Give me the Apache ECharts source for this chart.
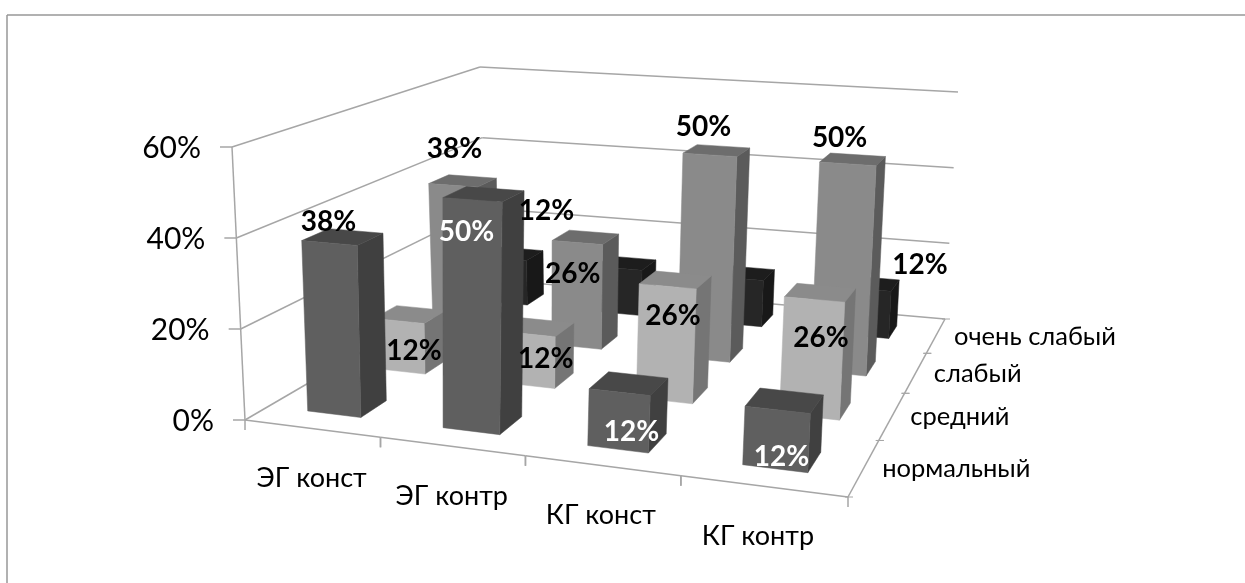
<!DOCTYPE html>
<html><head><meta charset="utf-8">
<style>html,body{margin:0;padding:0;background:#fff}#c{width:1245px;height:583px}</style>
<script src="https://cdn.jsdelivr.net/npm/echarts@6/dist/echarts.min.js"></script></head>
<body><div id="c"></div>
<script>
const categories = ['ЭГ конст', 'ЭГ контр', 'КГ конст', 'КГ контр'];
const depthNames = ['нормальный', 'средний', 'слабый', 'очень слабый'];
const normal = [38, 50, 12, 12];
const medium = [12, 12, 26, 26];
const weak = [38, 26, 50, 50];
const veryWeak = [12, 12, 12, 12];
const valueTicks = [0, 20, 40, 60];

const seriesValues = [normal, medium, weak, veryWeak];
const FONT = 'Lato, Carlito, "Open Sans", sans-serif';
// face colours per series: front, top, side
const faces = [
  ['#5f5f5f', '#484848', '#404040'],
  ['#b2b2b2', '#8b8b8b', '#757575'],
  ['#8a8a8a', '#6d6d6d', '#5b5b5b'],
  ['#262626', '#1d1d1d', '#181818']
];
const labelFill = [
  ['#000', '#fff', '#fff', '#fff'],
  ['#000', '#000', '#000', '#000'],
  ['#000', '#000', '#000', '#000'],
  ['#000', '#000', '#000', '#000']
];
// label offsets from the centre of the bar's front top edge; null = no label
const labelOffsets = [
  [[-1, -21], [-6, 32], [12, 40], [4, 47]],
  [[14, 30], [16, 25], [4, 29], [5, 38]],
  [[-1, -37], [-7, 31], [-9, -28], [-11, -26]],
  [[39, -48], null, null, [51, -24]]
];
const categoryNudge = [0, 0, -1, -5];

const gridBox = {left: 245, top: 147, width: 603, height: 273};
function homography(q) {
  const [p0, p1, p2, p3] = q;
  const dx1 = p1[0] - p2[0], dx2 = p3[0] - p2[0], sx = p0[0] - p1[0] + p2[0] - p3[0];
  const dy1 = p1[1] - p2[1], dy2 = p3[1] - p2[1], sy = p0[1] - p1[1] + p2[1] - p3[1];
  const den = dx1 * dy2 - dx2 * dy1;
  const g = (sx * dy2 - dx2 * sy) / den, h = (dx1 * sy - sx * dy1) / den;
  const a = p1[0] - p0[0] + g * p1[0], b = p3[0] - p0[0] + h * p3[0], c = p0[0];
  const d = p1[1] - p0[1] + g * p1[1], e = p3[1] - p0[1] + h * p3[1], f = p0[1];
  return (u, v) => { const w = g * u + h * v + 1; return [(a * u + b * v + c) / w, (d * u + e * v + f) / w]; };
}
const floorH = homography([[245, 420], [848, 497], [945, 319], [487, 279]]);
const topH = homography([[232, 147], [861.5, 190], [958, 92], [480, 67]]);
// u, w in 0..4 (category, depth), t in 0..1 (height share of the value axis)
function project(u, w, t) {
  const a = floorH(u / 4, w / 4), b = topH(u / 4, w / 4);
  return [a[0] + (b[0] - a[0]) * t, a[1] + (b[1] - a[1]) * t];
}
function axisPos(api, cat, val) {
  const p = api.coord([cat, val]);
  return {u: (p[0] - gridBox.left) / gridBox.width * 4, t: (gridBox.top + gridBox.height - p[1]) / gridBox.height};
}
const HALF = 0.2, BACK = 0.17, ROW_SHIFT = 0.01;
function barPoints(u, w, t) {
  const u0 = u - HALF, u1 = u + HALF, w0 = w - HALF, w1 = w + BACK;
  return {
    front: [project(u0, w0, 0), project(u1, w0, 0), project(u1, w0, t), project(u0, w0, t)],
    side: [project(u1, w0, 0), project(u1, w1, 0), project(u1, w1, t), project(u1, w0, t)],
    top: [project(u0, w0, t), project(u1, w0, t), project(u1, w1, t), project(u0, w1, t)]
  };
}
function poly(points, fill) {
  return {type: 'polygon', shape: {points}, style: {fill, stroke: fill, lineWidth: 0.5}};
}
function line(a, b, lw) {
  return {type: 'line', shape: {x1: a[0], y1: a[1], x2: b[0], y2: b[1]}, style: {stroke: '#a6a6a6', lineWidth: lw || 1.5}};
}
function text(x, y, str, o) {
  return {type: 'text', style: Object.assign({x, y, text: str, fontFamily: FONT, fill: '#000', verticalAlign: 'middle'}, o)};
}

const series = [];
// value gridlines, wall edge, tick marks and value tick labels
series.push({
  type: 'custom', silent: true, animation: false,
  data: valueTicks.map(v => [0, v]),
  renderItem(params, api) {
    const v = api.value(1), t = axisPos(api, 0, v).t;
    const a = project(0, 0, t), b = project(0, 4, t), c = project(4, 4, t);
    const kids = [line(a, b), line(b, c), line([a[0] - 12, a[1]], a)];
    if (v > 0) kids.push(line(a, project(0, 0, axisPos(api, 0, v - 20).t)));
    kids.push(text(a[0] - 31, a[1] + 1, v + '%', {align: 'right', fontSize: 30}));
    return {type: 'group', children: kids};
  }
});
// front floor edge, category ticks and labels
series.push({
  type: 'custom', silent: true, animation: false,
  data: categories.map((c, i) => [i, 0]),
  renderItem(params, api) {
    const i = api.value(0), u = axisPos(api, i, 0).u;
    const a = project(u - 0.5, 0, 0), b = project(u + 0.5, 0, 0), m = project(u, 0, 0);
    const kids = [line(a, b), line(a, [a[0], a[1] + 10]), line(b, [b[0], b[1] + 10])];
    kids.push(text(m[0] + categoryNudge[i], m[1] + 50, categories[i], {align: 'center', fontSize: 27}));
    return {type: 'group', children: kids};
  }
});
// side floor edge, depth ticks and labels
series.push({
  type: 'custom', silent: true, animation: false,
  data: depthNames.map((c, i) => [i, 0]),
  renderItem(params, api) {
    const j = params.dataIndex;
    const a = project(4, j, 0), b = project(4, j + 1, 0), m = project(4, j + 0.5, 0);
    const kids = [line(a, b), line([a[0] - 3, a[1]], [a[0] + 5, a[1]], 1), line([b[0] - 3, b[1]], [b[0] + 5, b[1]], 1)];
    kids.push(text(m[0] + 18, m[1] + 1, depthNames[j], {align: 'left', fontSize: 25.5}));
    return {type: 'group', children: kids};
  }
});
// bars, from the back row to the front
for (let j = 3; j >= 0; j--) {
  series.push({
    name: depthNames[j], type: 'custom', silent: true, animation: false,
    data: seriesValues[j].map((v, i) => [i, v]),
    renderItem(params, api) {
      const p = axisPos(api, api.value(0), api.value(1));
      const f = barPoints(p.u - ROW_SHIFT * j, j + 0.5, p.t);
      return {type: 'group', children: [poly(f.side, faces[j][2]), poly(f.top, faces[j][1]), poly(f.front, faces[j][0])]};
    }
  });
}
// value labels on top of all bars
for (let j = 3; j >= 0; j--) {
  series.push({
    type: 'custom', silent: true, animation: false,
    data: seriesValues[j].map((v, i) => [i, v]),
    renderItem(params, api) {
      const i = api.value(0), v = api.value(1), off = labelOffsets[j][i];
      if (!off) return null;
      const p = axisPos(api, i, v), a = project(p.u, j + 0.5 - HALF, p.t);
      return text(a[0] + off[0], a[1] + off[1], v + '%', {align: 'center', fontSize: 28, fontWeight: 'bold', fill: labelFill[j][i]});
    }
  });
}

const chart = echarts.init(document.getElementById('c'), null, {renderer: 'canvas'});
chart.setOption({
  animation: false,
  backgroundColor: '#fff',
  grid: gridBox,
  xAxis: {type: 'category', data: categories, show: false},
  yAxis: {type: 'value', min: 0, max: 60, interval: 20, show: false},
  graphic: [
    {type: 'line', shape: {x1: 7, y1: 15, x2: 1245, y2: 15}, style: {stroke: '#979797', lineWidth: 1.5}},
    {type: 'line', shape: {x1: 7, y1: 15, x2: 7, y2: 583}, style: {stroke: '#979797', lineWidth: 1.5}}
  ],
  series
});
</script></body></html>
